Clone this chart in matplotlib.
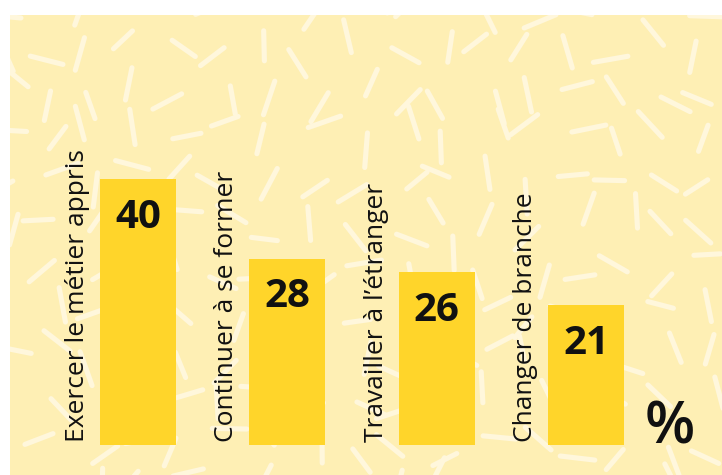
import numpy as np
import matplotlib
matplotlib.use("Agg")
import matplotlib.pyplot as plt
from matplotlib.patches import Rectangle

# ---- data ----
categories = ["Exercer le métier appris", "Continuer à se former",
              "Travailler à l\u2019étranger", "Changer de branche"]
values = [40, 28, 26, 21]
unit_label = "%"

# ---- style ----
BG = "#FEEFB4"
BAR = "#FFD52A"
DASH = "#FFF7DC"
INK = "#111111"
FONT = "Open Sans"

W, H = 722, 475
fig = plt.figure(figsize=(W / 100, H / 100), dpi=100)
fig.patch.set_facecolor("white")

# background panel (pixel coordinates)
bg = fig.add_axes([0, 0, 1, 1])
bg.set_xlim(0, W)
bg.set_ylim(H, 0)
bg.axis("off")
panel = Rectangle((10, 15), W - 10, H - 15, facecolor=BG, edgecolor="none", zorder=0)
bg.add_patch(panel)

# decorative confetti dashes (deterministic hash-based layout)
def hash01(a, b, salt):
    v = np.sin(a * 127.1 + b * 311.7 + salt * 74.7) * 43758.5453
    return v - np.floor(v)

step = 44
for iy, gy in enumerate(np.arange(5, H + step, step)):
    for ix, gx in enumerate(np.arange(5, W + step, step)):
        cx = gx + (hash01(ix, iy, 1) - 0.5) * step * 0.75
        cy = gy + (hash01(ix, iy, 2) - 0.5) * step * 0.75
        ang = hash01(ix, iy, 3) * np.pi
        ln = 26 + hash01(ix, iy, 4) * 10
        dx, dy = np.cos(ang) * ln / 2, np.sin(ang) * ln / 2
        line, = bg.plot([cx - dx, cx + dx], [cy - dy, cy + dy], color=DASH,
                        lw=3.7, solid_capstyle="round", zorder=1)
        line.set_clip_path(panel)

# bar axes
ax = fig.add_axes([0, 30 / H, 1, 399 / H])
ax.set_xlim(-0.924, 3.911)
ax.set_ylim(0, 60)
ax.axis("off")
ax.patch.set_alpha(0)

x = np.arange(len(values))
ax.bar(x, values, width=0.509, color=BAR, zorder=2)

for xi, v, lab in zip(x, values, categories):
    ax.annotate(str(v), (xi, v), xytext=(0, -38 * 0.72), textcoords="offset points",
                ha="center", va="center", fontsize=29, fontweight="bold",
                family=FONT, color=INK, zorder=3)
    ax.text(xi - 0.362, 0.45, lab, rotation=90, rotation_mode="anchor",
            ha="left", va="baseline", fontsize=19, family=FONT, color=INK, zorder=3)

bg.text(670, 444, unit_label, ha="center", va="baseline", fontsize=42,
        fontweight="semibold", family=FONT, color=INK, zorder=3)

fig.savefig("out.png", dpi=100, facecolor="white")
